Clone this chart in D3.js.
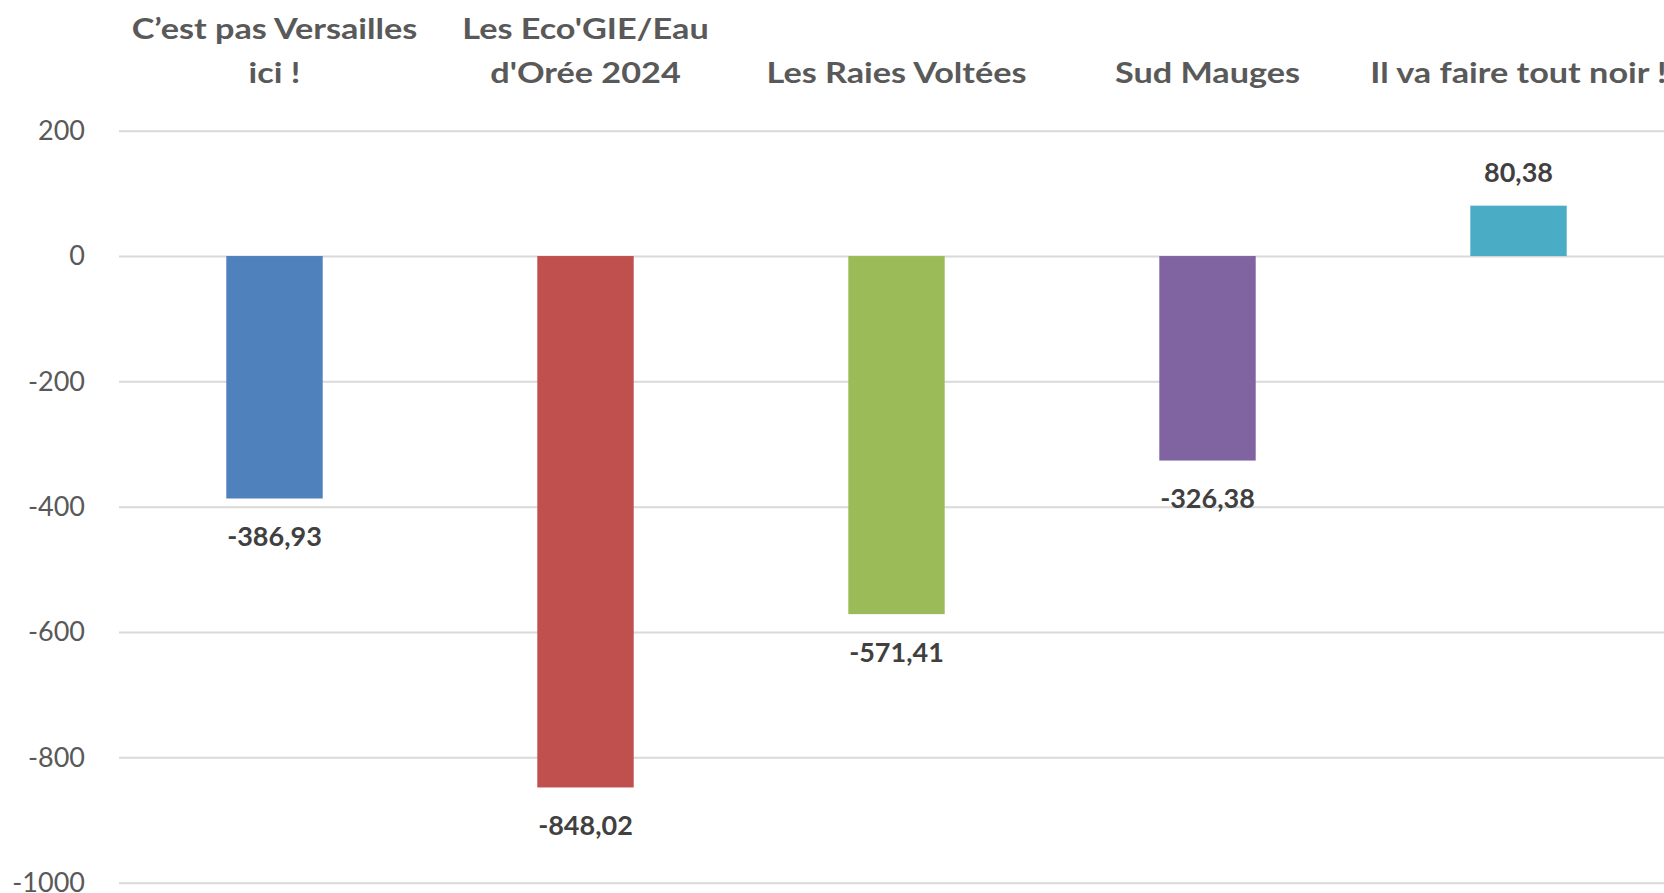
<!DOCTYPE html>
<html>
<head>
<meta charset="utf-8">
<script src="https://cdn.jsdelivr.net/npm/d3@7"></script>
<style>
  html, body { margin: 0; padding: 0; background: #ffffff; overflow: hidden; }
  svg { display: block; }
</style>
</head>
<body>
<svg id="chart" width="1664" height="893"></svg>
<script>
const categories = [
  ["C\u2019est pas Versailles", "ici !"],
  ["Les Eco'GIE/Eau", "d'Orée 2024"],
  ["Les Raies Voltées"],
  ["Sud Mauges"],
  ["Il va faire tout noir !"]
];
const values = [-386.93, -848.02, -571.41, -326.38, 80.38];
const colors = ["#4F81BD", "#C0504D", "#9BBB59", "#8064A2", "#4BACC6"];
const yTicks = [200, 0, -200, -400, -600, -800, -1000];

const svg = d3.select("#chart");
const font = "Lato, 'Open Sans', sans-serif";

const x = d3.scaleBand()
  .domain(d3.range(categories.length))
  .range([119, 1674])
  .paddingInner(0.69)
  .paddingOuter(0.345);

const y = d3.scaleLinear()
  .domain([-1000, 200])
  .range([882.7, 130.7]);

const locale = d3.formatLocale({ decimal: ",", thousands: " ", grouping: [3], currency: ["", "€"], minus: "-" });
const fmt = locale.format(".2f");

// gridlines via axis
const grid = svg.append("g")
  .attr("transform", "translate(119,0)")
  .call(d3.axisLeft(y).tickValues(yTicks).tickSize(-1560).tickFormat(""));
grid.select(".domain").remove();
grid.selectAll(".tick line").attr("stroke", "#D9D9D9").attr("stroke-width", 2);

// tick labels
const axis = svg.append("g")
  .attr("transform", "translate(85,0)")
  .call(d3.axisLeft(y).tickValues(yTicks).tickSize(0).tickPadding(0).tickFormat(d => d3.format("d")(d).replace("−", "-")));
axis.select(".domain").remove();
axis.selectAll(".tick text")
  .attr("font-family", font)
  .attr("font-size", 27)
  .attr("fill", "#595959")
  .attr("dy", "0.32em");

// bars
svg.append("g").selectAll("rect")
  .data(values)
  .join("rect")
  .attr("x", (d, i) => x(i))
  .attr("width", x.bandwidth())
  .attr("y", d => y(Math.max(0, d)))
  .attr("height", d => Math.abs(y(d) - y(0)))
  .attr("fill", (d, i) => colors[i]);

// value labels
svg.append("g").selectAll("text")
  .data(values)
  .join("text")
  .attr("x", (d, i) => x(i) + x.bandwidth() / 2)
  .attr("y", d => d < 0 ? y(d) + 38 : y(d) - 33)
  .attr("dy", "0.35em")
  .attr("text-anchor", "middle")
  .attr("font-family", font)
  .attr("font-weight", "bold")
  .attr("font-size", 27)
  .attr("fill", "#404040")
  .text(d => fmt(d));

// category labels (top)
const lineY = [29, 73];
const cat = svg.append("g").selectAll("g")
  .data(categories)
  .join("g")
  .attr("transform", (d, i) => `translate(${x(i) + x.bandwidth() / 2},0) scale(1.18,1)`);
cat.each(function(lines) {
  const t = d3.select(this).append("text")
    .attr("text-anchor", "middle")
    .attr("font-family", font)
    .attr("font-weight", "bold")
    .attr("font-size", 29)
    .attr("fill", "#595959");
  const start = lineY.length - lines.length;
  lines.forEach((ln, j) => {
    t.append("tspan")
      .attr("x", 0)
      .attr("y", lineY[start + j])
      .attr("dy", "0.35em")
      .text(ln);
  });
});
</script>
</body>
</html>
